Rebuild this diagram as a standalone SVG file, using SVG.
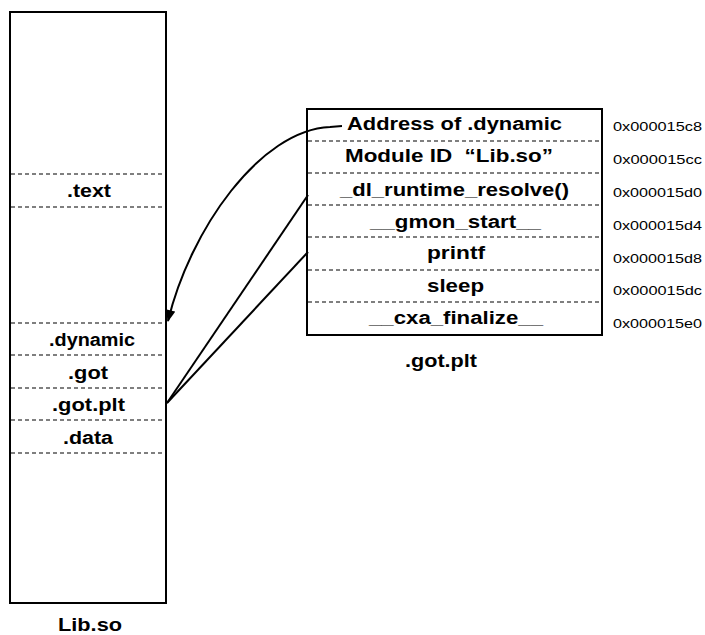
<svg xmlns="http://www.w3.org/2000/svg" width="705" height="635" viewBox="0 0 705 635">
<defs>
<style>
.box{fill:#fff;stroke:#000;stroke-width:2}
.dash{stroke:#000;stroke-width:1.2;stroke-dasharray:4,3}
.t{font-family:"Liberation Sans",Arial,sans-serif;font-weight:bold;font-size:18px;fill:#000}
.a{font-family:"Liberation Sans",Arial,sans-serif;font-size:13px;fill:#000}
.c{fill:none;stroke:#000;stroke-width:2}
</style>
<marker id="ah" viewBox="0 0 12 10" refX="11" refY="5" markerWidth="13" markerHeight="10" markerUnits="userSpaceOnUse" orient="auto">
<path d="M0,0 L12,5 L0,10 z" fill="#000"/>
</marker>
</defs>
<rect width="705" height="635" fill="#fff"/>
<g id="libso">
<rect class="box" x="10" y="12" width="156" height="591"/>
<line class="dash" x1="11" y1="174" x2="165" y2="174"/>
<line class="dash" x1="11" y1="207" x2="165" y2="207"/>
<line class="dash" x1="11" y1="323" x2="165" y2="323"/>
<line class="dash" x1="11" y1="355" x2="165" y2="355"/>
<line class="dash" x1="11" y1="388" x2="165" y2="388"/>
<line class="dash" x1="11" y1="420" x2="165" y2="420"/>
<line class="dash" x1="11" y1="453" x2="165" y2="453"/>
<text class="t" x="67" y="197" textLength="44" lengthAdjust="spacingAndGlyphs">.text</text>
<text class="t" x="49" y="346" textLength="86" lengthAdjust="spacingAndGlyphs">.dynamic</text>
<text class="t" x="68" y="379" textLength="40" lengthAdjust="spacingAndGlyphs">.got</text>
<text class="t" x="52" y="411" textLength="73" lengthAdjust="spacingAndGlyphs">.got.plt</text>
<text class="t" x="63" y="444" textLength="50" lengthAdjust="spacingAndGlyphs">.data</text>
<text class="t" x="58" y="631" textLength="64" lengthAdjust="spacingAndGlyphs">Lib.so</text>
</g>
<g id="gotplt">
<rect class="box" x="307" y="109" width="295" height="226"/>
<line class="dash" x1="308" y1="141" x2="601" y2="141"/>
<line class="dash" x1="308" y1="173" x2="601" y2="173"/>
<line class="dash" x1="308" y1="205" x2="601" y2="205"/>
<line class="dash" x1="308" y1="237" x2="601" y2="237"/>
<line class="dash" x1="308" y1="270" x2="601" y2="270"/>
<line class="dash" x1="308" y1="302" x2="601" y2="302"/>
<text class="t" x="347" y="130" textLength="215" lengthAdjust="spacingAndGlyphs">Address of .dynamic</text>
<text class="t" x="345" y="162" textLength="208" lengthAdjust="spacingAndGlyphs">Module ID&#160;&#160;“Lib.so”</text>
<text class="t" x="340" y="196" textLength="229" lengthAdjust="spacingAndGlyphs">_dl_runtime_resolve()</text>
<text class="t" x="370" y="228" textLength="171" lengthAdjust="spacingAndGlyphs">__gmon_start__</text>
<text class="t" x="427" y="259" textLength="58" lengthAdjust="spacingAndGlyphs">printf</text>
<text class="t" x="427" y="292" textLength="57" lengthAdjust="spacingAndGlyphs">sleep</text>
<text class="t" x="369" y="324" textLength="174" lengthAdjust="spacingAndGlyphs">__cxa_finalize__</text>
<text class="t" x="405" y="367" textLength="72" lengthAdjust="spacingAndGlyphs">.got.plt</text>
</g>
<g id="addresses">
<text class="a" x="613" y="131" textLength="89" lengthAdjust="spacingAndGlyphs">0x000015c8</text>
<text class="a" x="613" y="164" textLength="89" lengthAdjust="spacingAndGlyphs">0x000015cc</text>
<text class="a" x="613" y="197" textLength="89" lengthAdjust="spacingAndGlyphs">0x000015d0</text>
<text class="a" x="613" y="230" textLength="89" lengthAdjust="spacingAndGlyphs">0x000015d4</text>
<text class="a" x="613" y="263" textLength="89" lengthAdjust="spacingAndGlyphs">0x000015d8</text>
<text class="a" x="613" y="295" textLength="89" lengthAdjust="spacingAndGlyphs">0x000015dc</text>
<text class="a" x="613" y="328" textLength="89" lengthAdjust="spacingAndGlyphs">0x000015e0</text>
</g>
<g id="connectors">
<path class="c" d="M342,126 L330,127 C260,130 190,230 168,321" marker-end="url(#ah)"/>
<line class="c" x1="308" y1="195" x2="167" y2="403"/>
<line class="c" x1="308" y1="252" x2="167" y2="403"/>
</g>
</svg>
